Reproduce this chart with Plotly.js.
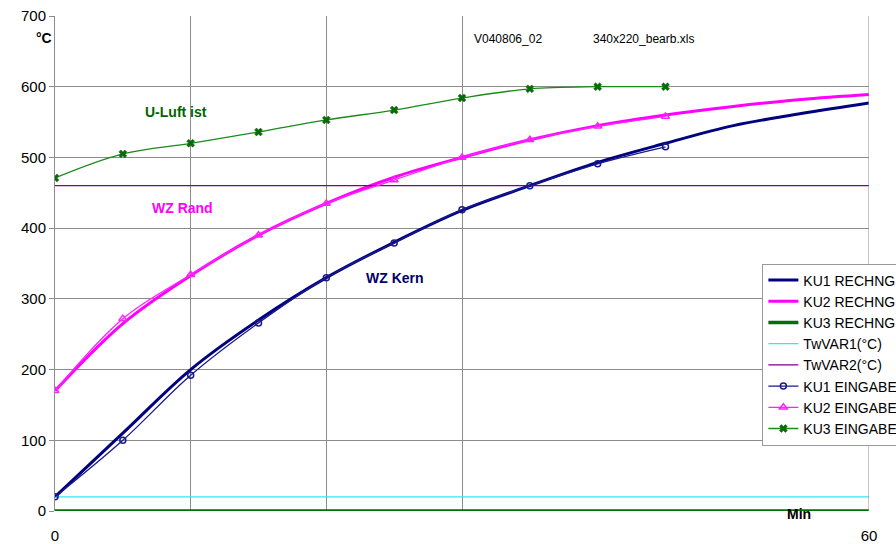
<!DOCTYPE html>
<html><head><meta charset="utf-8">
<script src="https://cdn.plot.ly/plotly-3.0.1.min.js"></script>
<style>html,body{margin:0;padding:0;background:#fff}#chart{width:896px;height:544px}</style>
</head><body><div id="chart"></div>
<script>
const xCalc = [0,5,10,15,20,25,30,35,40,45,50,55,60];
const xInput = [0,5,10,15,20,25,30,35,40,45];
const ku1Calc = [20,110,200,270,330,380,425,460,493,520,545,562,577];
const ku2Calc = [170,265,333,390,435,472,500,525,545,560,572,582,589];
const ku3Calc = [0,0,0,0,0,0,0,0,0,0,0,0,0];
const twVar1 = [20,20,20,20,20,20,20,20,20,20,20,20,20];
const twVar2 = [460,460,460,460,460,460,460,460,460,460,460,460,460];
const ku1Input = [20,100,192,266,330,379,426,460,491,515];
const ku2Input = [170,272,334,390,435,468,500,525,544,558];
const ku3Input = [471,505,520,536,553,567,584,597,600,600];
const names = ["KU1 RECHNG","KU2 RECHNG","KU3 RECHNG","TwVAR1(°C)","TwVAR2(°C)","KU1 EINGABE","KU2 EINGABE","KU3 EINGABE"];
const xTickVals = [0,10,20,30,60];
const xTickText = ["0","","","","60"];
const yTickVals = [0,100,200,300,400,500,600,700];

const F = "Liberation Sans, Arial, sans-serif";
const traces = [
  {x:xCalc,y:ku1Calc,name:names[0],mode:'lines',line:{color:'#000080',width:3,shape:'spline'}},
  {x:xCalc,y:ku2Calc,name:names[1],mode:'lines',line:{color:'#ff00ff',width:3,shape:'spline'}},
  {x:xCalc,y:ku3Calc,name:names[2],mode:'lines',line:{color:'#007000',width:3.5}},
  {x:xCalc,y:twVar1,name:names[3],mode:'lines',line:{color:'#33e6f0',width:1.2}},
  {x:xCalc,y:twVar2,name:names[4],mode:'lines',line:{color:'#800080',width:1.2}},
  {x:xInput,y:ku1Input,name:names[5],mode:'lines+markers',line:{color:'#1a1a8c',width:1.3,shape:'spline'},marker:{symbol:'circle-open',size:6,color:'#1a1a8c',line:{width:1.5}}},
  {x:xInput,y:ku2Input,name:names[6],mode:'lines+markers',line:{color:'#ff22ff',width:1.3,shape:'spline'},marker:{symbol:'triangle-up-open',size:7,color:'#ff22ff',line:{width:1.5}}},
  {x:xInput,y:ku3Input,name:names[7],mode:'lines+markers',line:{color:'#1a8a1a',width:1.3,shape:'spline'},marker:{symbol:'x',size:7,color:'#0a6a0a',line:{width:0.5,color:'#0a6a0a'}}}
];
const ann = (x,y,text,color,size,bold,xanchor) => ({x:x,y:y,xref:'x',yref:'y',text:bold?'<b>'+text+'</b>':text,showarrow:false,font:{family:F,size:size,color:color},xanchor:xanchor||'left'});
const layout = {
  width:896,height:544,
  margin:{l:55,r:27,t:16,b:33,autoexpand:false},
  paper_bgcolor:'#fff',plot_bgcolor:'#fff',
  font:{family:F,size:15,color:'#000'},
  showlegend:true,
  legend:{x:0.869,y:0.5,xanchor:'left',yanchor:'top',bgcolor:'#fff',bordercolor:'#999',borderwidth:1,font:{family:F,size:14,color:'#000'},itemwidth:30,tracegroupgap:0},
  xaxis:{range:[0,60],tickvals:xTickVals,ticktext:xTickText,showgrid:true,gridcolor:'#8c8c8c',gridwidth:1,zeroline:false,showline:false,ticks:'',ticklabelstandoff:14,tickfont:{family:F,size:15},fixedrange:true},
  yaxis:{range:[0,700],tickvals:yTickVals,showgrid:true,gridcolor:'#8c8c8c',gridwidth:1,zeroline:false,showline:true,linecolor:'#8c8c8c',linewidth:1,ticks:'outside',ticklen:5,tickcolor:'#8c8c8c',tickfont:{family:F,size:15},fixedrange:true},
  shapes:[{type:'line',xref:'x',yref:'y',x0:60,x1:60,y0:0,y1:700,line:{color:'#8c8c8c',width:1}}],
  annotations:[
    ann(6.5,564,'U-Luft ist','#006400',14,true),
    ann(7,429,'WZ Rand','#ff00ff',14,true),
    ann(22.8,330,'WZ Kern','#000066',14,true),
    ann(30.7,667,'V040806_02','#000',12,false),
    ann(39.5,667,'340x220_bearb.xls','#000',12,false),
    {x:55.9,y:0,xref:'x',yref:'paper',text:'<b>Min</b>',showarrow:false,xanchor:'right',yanchor:'middle',yshift:-3,font:{family:F,size:14,color:'#000'}},
    {x:0,y:669,xref:'x',yref:'y',text:'<b>°C</b>',showarrow:false,xanchor:'right',font:{family:F,size:14,color:'#000'},xshift:-1}
  ]
};
Plotly.newPlot('chart',traces,layout,{displayModeBar:false,staticPlot:true});
</script></body></html>
